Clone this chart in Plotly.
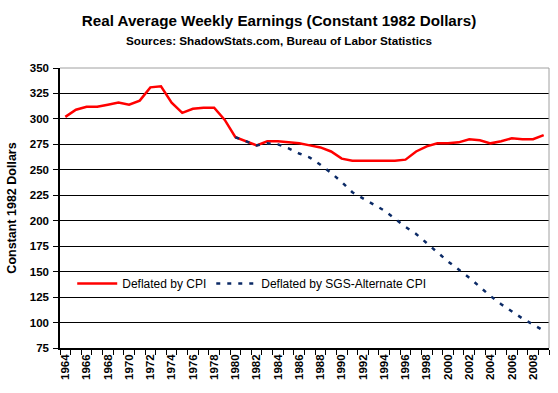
import plotly.graph_objects as go

years = [str(y) for y in range(1964, 2010)]
cpi_values = [302, 309, 312, 312, 314, 316, 314, 318, 331, 332,
              316, 306, 310, 311, 311, 299, 282, 278, 274, 278,
              278, 277, 276, 274, 272, 268, 261, 259, 259, 259,
              259, 259, 260, 268, 273, 276, 276, 277, 280, 279,
              276, 278, 281, 280, 280, 284]
sgs_years = [str(y) for y in range(1980, 2010)]
sgs_values = [282, 278, 274, 276, 275, 271, 266, 262, 255, 247,
              238, 228, 222, 216, 210, 202, 194, 187, 178, 169,
              160, 152, 144, 135, 126, 118, 111, 104, 98, 92]
y_ticks = list(range(75, 351, 25))
x_labels = [y if int(y) % 2 == 0 else "" for y in years]

FONT = "Liberation Sans, Arial, sans-serif"

fig = go.Figure()
fig.add_trace(go.Scatter(x=years, y=cpi_values, mode="lines", name="Deflated by CPI",
                         line=dict(color="#ff0000", width=2.5)))
fig.add_trace(go.Scatter(x=sgs_years, y=sgs_values, mode="lines", name="Deflated by SGS-Alternate CPI",
                         line=dict(color="#0b2a66", width=2.5, dash="4px,7px")))

fig.update_layout(
    width=558, height=393,
    margin=dict(l=60, r=9, t=68, b=45),
    paper_bgcolor="white", plot_bgcolor="white",
    font=dict(family=FONT, color="black"),
    title=dict(
        text="<b>Real Average Weekly Earnings (Constant 1982 Dollars)</b><br>"
             "<span style='font-size:11.7px'><b>Sources: ShadowStats.com, Bureau of Labor Statistics</b></span>",
        x=0.5, xanchor="center", y=0.935, yanchor="top",
        font=dict(size=15.2, family=FONT)),
    showlegend=True,
    legend=dict(orientation="h", x=0.025, y=0.23, xanchor="left", yanchor="middle",
                bgcolor="rgba(0,0,0,0)", font=dict(size=12, family=FONT),
                itemwidth=40, tracegroupgap=0),
    xaxis=dict(type="category", categoryorder="array", categoryarray=years,
               range=[-0.5, 45.5], tickmode="array", tickvals=years, ticktext=x_labels,
               tickson="boundaries", ticks="outside", ticklen=5, tickcolor="black",
               tickangle=-90, tickfont=dict(size=11.5, family=FONT, weight="bold"),
               showline=True, linecolor="black", linewidth=1.5, showgrid=False,
               zeroline=False),
    yaxis=dict(range=[75, 350], tickvals=y_ticks, ticks="outside", ticklen=5,
               tickcolor="black", tickfont=dict(size=11.5, family=FONT, weight="bold"),
               ticklabelstandoff=2,
               showline=True, linecolor="black", linewidth=1.5,
               showgrid=True, gridcolor="black", gridwidth=1, zeroline=False,
               title=dict(text="<b>Constant 1982 Dollars</b>", font=dict(size=12.5, family=FONT),
                          standoff=10)),
)

# plot-area border (gray, right and top)
fig.add_shape(type="line", xref="paper", yref="paper", x0=0, x1=1, y0=1, y1=1,
              line=dict(color="#a0a0a0", width=1), layer="above")
fig.add_shape(type="line", xref="paper", yref="paper", x0=1, x1=1, y0=0, y1=1,
              line=dict(color="#a0a0a0", width=1), layer="above")

fig.write_html("out.html", config={"displayModeBar": False},
               post_script="document.body.style.margin='0';")
